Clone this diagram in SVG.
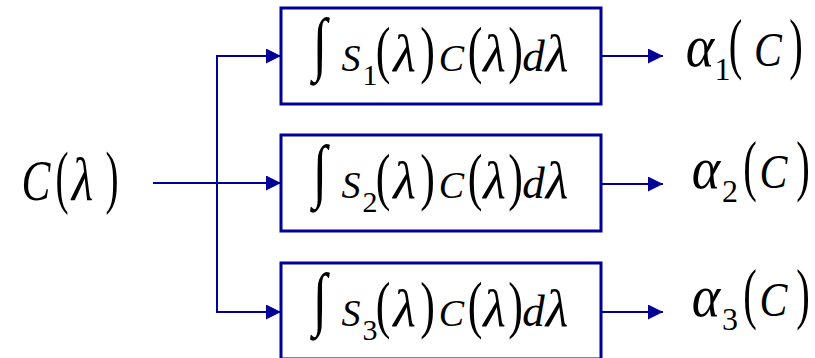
<svg xmlns="http://www.w3.org/2000/svg" width="815" height="358" viewBox="0 0 815 358">
<style>
.t text{fill:#000;text-anchor:middle}
.i{font-style:italic}
.box{fill:#fff;stroke:#000099;stroke-width:3}
.ln{fill:none;stroke:#000099;stroke-width:2}
</style>
<defs>
<marker id="ah" markerUnits="userSpaceOnUse" markerWidth="16" markerHeight="16" refX="15" refY="7.5" orient="auto">
<path d="M0,0 L15,7.5 L0,15 Z" fill="#000099"/>
</marker>
</defs>
<rect width="815" height="358" fill="#fff"/>
<g class="t" font-family="Liberation Serif, DejaVu Serif, serif">
<g id="input">
<text class="i" font-size="57" transform="translate(36,200) scale(0.76,1)">C</text>
<text font-size="70" transform="translate(62,200) scale(0.56,1)">(</text>
<text class="i" font-size="62" transform="translate(82.5,200) scale(0.8,1)">λ</text>
<text font-size="70" transform="translate(112,200) scale(0.56,1)">)</text>
</g>
<g id="connectors">
<path class="ln" d="M153,183 H281" marker-end="url(#ah)"/>
<path class="ln" d="M217,183 V56 H281" marker-end="url(#ah)"/>
<path class="ln" d="M217,183 V312 H281" marker-end="url(#ah)"/>
<path class="ln" d="M602,56 H663" marker-end="url(#ah)"/>
<path class="ln" d="M602,184 H663" marker-end="url(#ah)"/>
<path class="ln" d="M602,312 H663" marker-end="url(#ah)"/>
</g>
<g id="box1">
<rect class="box" x="281" y="8" width="320" height="96"/>
<text font-size="70" transform="translate(320,67) scale(0.75,1)">∫</text>
<text class="i" font-size="38" x="351" y="71">S</text>
<text font-size="30" x="370" y="85">1</text>
<text font-size="63" transform="translate(383,71) scale(0.7,1)">(</text>
<text class="i" font-size="52" x="404.5" y="71">λ</text>
<text font-size="63" transform="translate(427.5,71) scale(0.7,1)">)</text>
<text class="i" font-size="38" x="451.5" y="71">C</text>
<text font-size="63" transform="translate(475,71) scale(0.7,1)">(</text>
<text class="i" font-size="52" x="494.5" y="71">λ</text>
<text font-size="63" transform="translate(515.5,71) scale(0.7,1)">)</text>
<text class="i" font-size="45" x="533.5" y="71">d</text>
<text class="i" font-size="52" x="557" y="71">λ</text>
</g>
<g id="box2">
<rect class="box" x="281" y="135" width="320" height="96"/>
<text font-size="70" transform="translate(320,194) scale(0.75,1)">∫</text>
<text class="i" font-size="38" x="351" y="198">S</text>
<text font-size="30" x="370" y="212">2</text>
<text font-size="63" transform="translate(383,198) scale(0.7,1)">(</text>
<text class="i" font-size="52" x="404.5" y="198">λ</text>
<text font-size="63" transform="translate(427.5,198) scale(0.7,1)">)</text>
<text class="i" font-size="38" x="451.5" y="198">C</text>
<text font-size="63" transform="translate(475,198) scale(0.7,1)">(</text>
<text class="i" font-size="52" x="494.5" y="198">λ</text>
<text font-size="63" transform="translate(515.5,198) scale(0.7,1)">)</text>
<text class="i" font-size="45" x="533.5" y="198">d</text>
<text class="i" font-size="52" x="557" y="198">λ</text>
</g>
<g id="box3">
<rect class="box" x="281" y="263" width="320" height="96"/>
<text font-size="70" transform="translate(320,322) scale(0.75,1)">∫</text>
<text class="i" font-size="38" x="351" y="326">S</text>
<text font-size="30" x="370" y="340">3</text>
<text font-size="63" transform="translate(383,326) scale(0.7,1)">(</text>
<text class="i" font-size="52" x="404.5" y="326">λ</text>
<text font-size="63" transform="translate(427.5,326) scale(0.7,1)">)</text>
<text class="i" font-size="38" x="451.5" y="326">C</text>
<text font-size="63" transform="translate(475,326) scale(0.7,1)">(</text>
<text class="i" font-size="52" x="494.5" y="326">λ</text>
<text font-size="63" transform="translate(515.5,326) scale(0.7,1)">)</text>
<text class="i" font-size="45" x="533.5" y="326">d</text>
<text class="i" font-size="52" x="557" y="326">λ</text>
</g>
<g id="out1">
<text class="i" font-size="60" transform="translate(700,66) scale(0.9,1)">α</text>
<text font-size="32" x="722.5" y="80">1</text>
<text font-size="68" transform="translate(735.5,66) scale(0.6,1)">(</text>
<text class="i" font-size="48" transform="translate(768,66) scale(0.87,1)">C</text>
<text font-size="68" transform="translate(796,66) scale(0.6,1)">)</text>
</g>
<g id="out2">
<text class="i" font-size="60" transform="translate(706,188) scale(0.9,1)">α</text>
<text font-size="32" x="730" y="202">2</text>
<text font-size="68" transform="translate(750,188) scale(0.6,1)">(</text>
<text class="i" font-size="48" transform="translate(773.5,188) scale(0.87,1)">C</text>
<text font-size="68" transform="translate(803,188) scale(0.6,1)">)</text>
</g>
<g id="out3">
<text class="i" font-size="60" transform="translate(706,316) scale(0.9,1)">α</text>
<text font-size="32" x="730" y="330">3</text>
<text font-size="68" transform="translate(750,316) scale(0.6,1)">(</text>
<text class="i" font-size="48" transform="translate(773.5,316) scale(0.87,1)">C</text>
<text font-size="68" transform="translate(803,316) scale(0.6,1)">)</text>
</g>
</g>
</svg>
